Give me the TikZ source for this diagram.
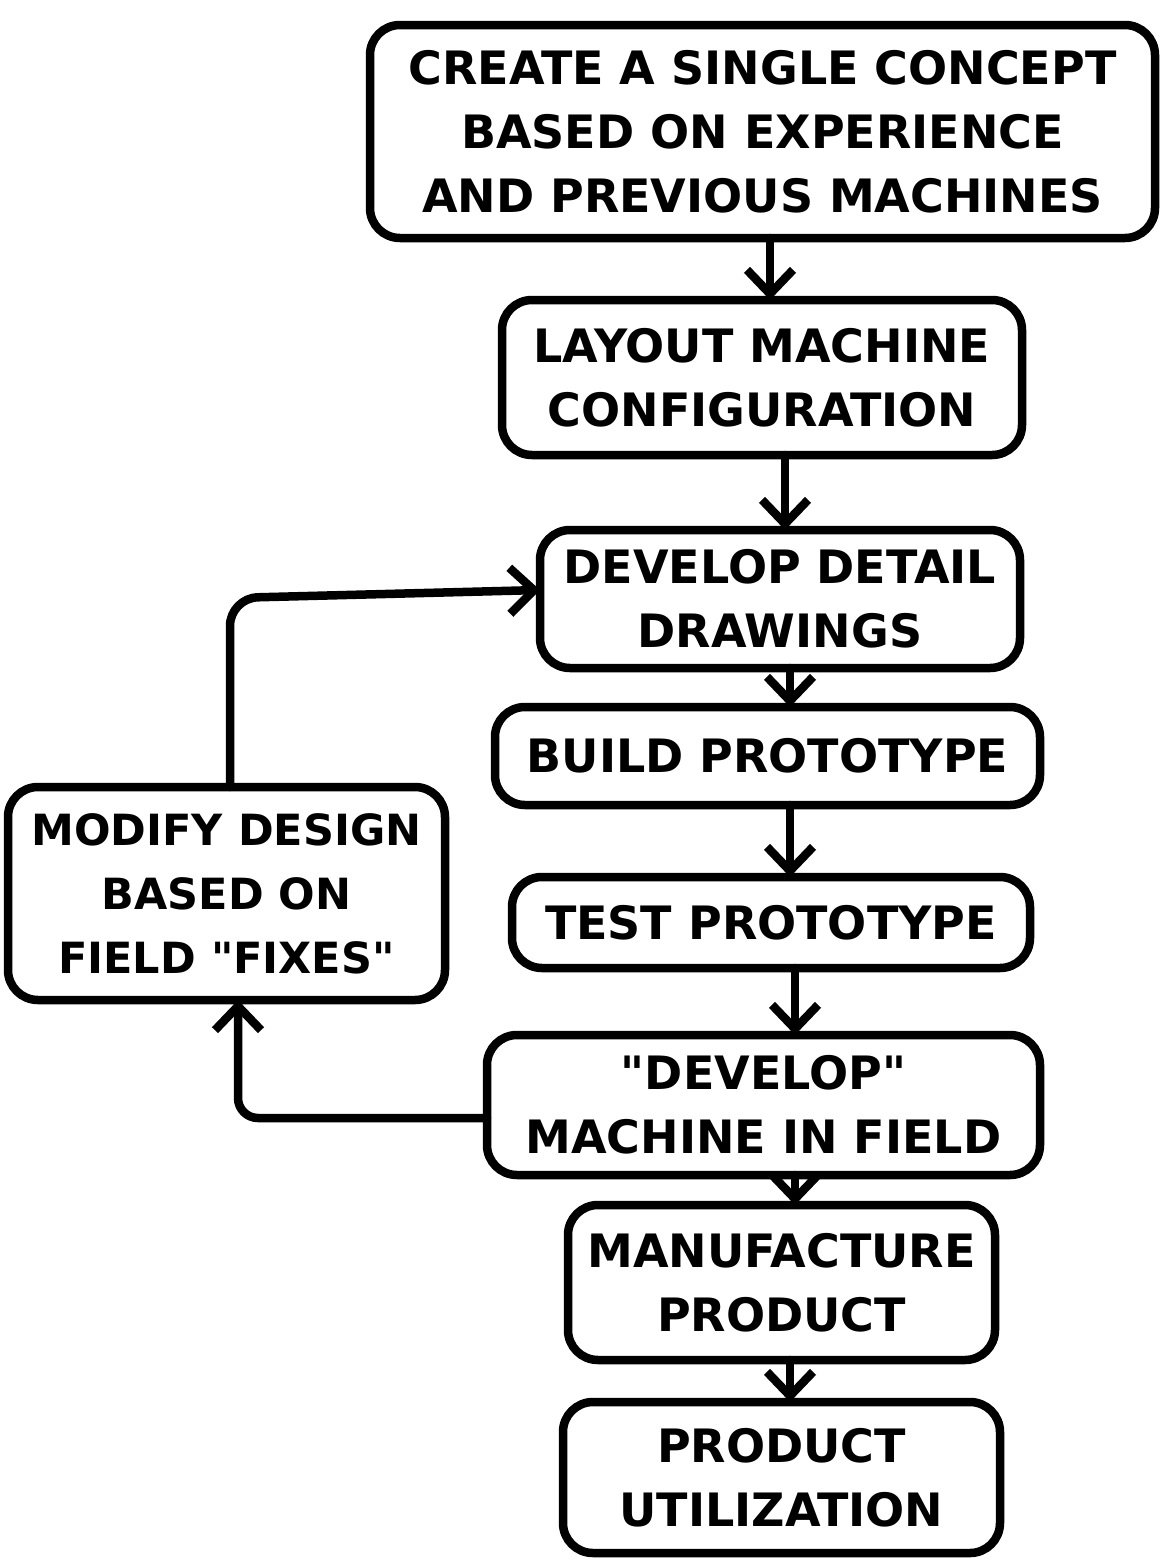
\documentclass[tikz,border=0pt]{standalone}
\usepackage{fontspec}
\setmainfont{DejaVu Sans}[Ligatures=TeXOff]
\usetikzlibrary{arrows.meta}
\begin{document}
\begin{tikzpicture}[x=1pt,y=-1pt,
  flowbox/.style={draw=black,line width=8.5pt,rounded corners=30pt,align=center,
    font=\bfseries\fontsize{46}{64}\selectfont,inner sep=0pt,outer sep=0pt},
  flow/.style={line width=8.5pt,line cap=round,line join=round,
    -{Straight Barb[length=24pt,width=46pt,line width=8.5pt]}}]
\useasboundingbox (0,0) rectangle (1161,1559);
\fill[white] (0,0) rectangle (1161,1559);
\newcommand{\mkbox}[7][]{% opts, name, x1,y1,x2,y2,text
  \node[flowbox,#1,minimum width={#5-#3}, minimum height={#6-#4}]
    (#2) at ({(#3+#5)/2},{(#4+#6)/2}) {#7};}
\newcommand{\dq}{\symbol{34}}
\mkbox{b1}{370}{25}{1155}{238}{CREATE A SINGLE CONCEPT\\BASED ON EXPERIENCE\\AND PREVIOUS MACHINES}
\mkbox{b2}{502}{300}{1022}{455}{LAYOUT MACHINE\\CONFIGURATION}
\mkbox{b3}{540}{530}{1020}{668}{DEVELOP DETAIL\\DRAWINGS}
\mkbox{b4}{495}{707}{1040}{805}{BUILD PROTOTYPE}
\mkbox{b5}{512}{877}{1030}{968}{TEST PROTOTYPE}
\mkbox{b6}{487}{1035}{1040}{1175}{\dq DEVELOP\dq\\MACHINE IN FIELD}
\mkbox{b7}{568}{1205}{995}{1360}{MANUFACTURE\\PRODUCT}
\mkbox{b8}{563}{1402}{1000}{1553}{PRODUCT\\UTILIZATION}
\mkbox[font=\bfseries\fontsize{43}{64}\selectfont]{b9}{8}{787}{445}{1000}{MODIFY DESIGN\\BASED ON\\FIELD \dq FIXES\dq}
% vertical flow
\draw[flow] (b1.south -| 770,0) -- (b2.north -| 770,0);
\draw[flow] (b2.south -| 785,0) -- (b3.north -| 785,0);
\draw[flow] (b3.south -| 790,0) -- (b4.north -| 790,0);
\draw[flow] (b4.south -| 790,0) -- (b5.north -| 790,0);
\draw[flow] (b5.south -| 795,0) -- (b6.north -| 795,0);
\draw[flow] (b6.south -| 795,0) -- (b7.north -| 795,0);
\draw[flow] (b7.south -| 790,0) -- (b8.north -| 790,0);
% feedback loop
\draw[flow,rounded corners=20pt] (b6.west |- 0,1118) -- (238,1118) -- (b9.south -| 238,0);
\draw[flow,rounded corners=28pt] (b9.north -| 230,0) -- (230,598) -- (b3.west |- 0,590);
\end{tikzpicture}
\end{document}
